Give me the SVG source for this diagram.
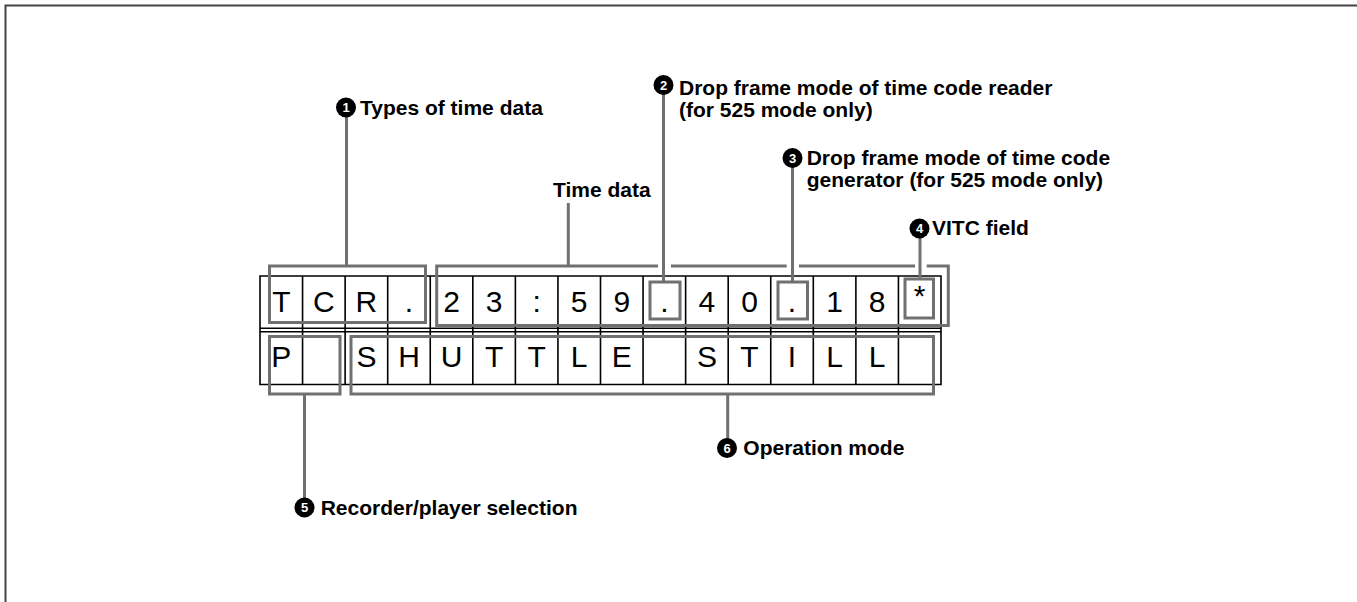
<svg xmlns="http://www.w3.org/2000/svg" width="1357" height="602" viewBox="0 0 1357 602">
<style>
.lbl{font-family:"Liberation Sans",Arial,sans-serif;font-weight:bold;font-size:21px;fill:#000}
.num{font-family:"Liberation Sans",Arial,sans-serif;font-weight:bold;font-size:13px;fill:#fff;text-anchor:middle}
.lcd{font-family:"Liberation Sans",Arial,sans-serif;font-size:30px;fill:#000;text-anchor:middle}
.br{fill:none;stroke:#707070;stroke-width:3}
.ld{fill:none;stroke:#707070;stroke-width:3}
.grid{fill:none;stroke:#000;stroke-width:1.6}
</style>
<rect width="1357" height="602" fill="#fff"/>
<path d="M5.5,602 V5.5 H1357" fill="none" stroke="#444" stroke-width="2"/>

<g id="lcd">
<path class="grid" d="M260,276 H941 V384.5 H260 Z M260,328.3 H941 M260,331.7 H941
M302.56,276 V384.5 M345.13,276 V384.5 M387.69,276 V384.5 M430.25,276 V384.5 M472.81,276 V384.5 M515.38,276 V384.5 M557.94,276 V384.5 M600.5,276 V384.5 M643.06,276 V384.5 M685.63,276 V384.5 M728.19,276 V384.5 M770.75,276 V384.5 M813.31,276 V384.5 M855.88,276 V384.5 M898.44,276 V384.5"/>
<g class="lcd">
<text x="281.3" y="311.7">T</text>
<text x="323.8" y="311.7">C</text>
<text x="366.4" y="311.7">R</text>
<text x="409" y="311.7">.</text>
<text x="451.5" y="311.7">2</text>
<text x="494.1" y="311.7">3</text>
<text x="536.7" y="311.7">:</text>
<text x="579.2" y="311.7">5</text>
<text x="621.8" y="311.7">9</text>
<text x="664.3" y="311.7">.</text>
<text x="706.9" y="311.7">4</text>
<text x="749.5" y="311.7">0</text>
<text x="792" y="311.7">.</text>
<text x="834.6" y="311.7">1</text>
<text x="877.2" y="311.7">8</text>
<text x="919.7" y="306">*</text>
<text x="281.3" y="367.3">P</text>
<text x="366.4" y="367.3">S</text>
<text x="409" y="367.3">H</text>
<text x="451.5" y="367.3">U</text>
<text x="494.1" y="367.3">T</text>
<text x="536.7" y="367.3">T</text>
<text x="579.2" y="367.3">L</text>
<text x="621.8" y="367.3">E</text>
<text x="706.9" y="367.3">S</text>
<text x="749.5" y="367.3">T</text>
<text x="792" y="367.3">I</text>
<text x="834.6" y="367.3">L</text>
<text x="877.2" y="367.3">L</text>
</g>
</g>

<g id="brackets">
<rect id="box-types" class="br" x="269.5" y="266" width="156" height="56.5"/>
<path id="box-time" class="br" d="M658,266 H436.7 V325.5 H948.3 V266 H926.7 M915,266 H799 M786.7,266 H671"/>
<rect id="box-df-reader" class="br" x="650" y="282" width="30" height="37"/>
<rect id="box-df-gen" class="br" x="778" y="282" width="29.5" height="37"/>
<rect id="box-vitc" class="br" x="905" y="279" width="28.5" height="39"/>
<rect id="box-recplay" class="br" x="269.5" y="336.5" width="70.5" height="57.5"/>
<rect id="box-opmode" class="br" x="351" y="336.5" width="582.5" height="57.5"/>
</g>

<g id="connectors">
<line class="ld" x1="346.5" y1="112" x2="346.5" y2="266"/>
<line class="ld" x1="568.3" y1="203" x2="568.3" y2="266"/>
<line class="ld" x1="663.5" y1="90" x2="663.5" y2="282"/>
<line class="ld" x1="792.5" y1="163" x2="792.5" y2="282"/>
<line class="ld" x1="920" y1="234" x2="920" y2="279"/>
<line class="ld" x1="304.5" y1="394" x2="304.5" y2="502"/>
<line class="ld" x1="727.7" y1="394" x2="727.7" y2="443"/>
</g>

<g id="label1">
<circle cx="346" cy="107.5" r="10"/>
<text class="num" x="346" y="112.3">1</text>
<text class="lbl" x="360" y="115">Types of time data</text>
</g>
<g id="label-time">
<text class="lbl" x="553" y="196.7">Time data</text>
</g>
<g id="label2">
<circle cx="663.5" cy="85" r="10"/>
<text class="num" x="663.5" y="89.8">2</text>
<text class="lbl" x="679" y="95">Drop frame mode of time code reader</text>
<text class="lbl" x="679" y="117">(for 525 mode only)</text>
</g>
<g id="label3">
<circle cx="792.5" cy="158" r="10"/>
<text class="num" x="792.5" y="162.8">3</text>
<text class="lbl" x="806.7" y="165">Drop frame mode of time code</text>
<text class="lbl" x="806.7" y="187">generator (for 525 mode only)</text>
</g>
<g id="label4">
<circle cx="919.5" cy="228.5" r="10"/>
<text class="num" x="919.5" y="233.3">4</text>
<text class="lbl" x="932" y="235">VITC field</text>
</g>
<g id="label5">
<circle cx="304.5" cy="507.5" r="10"/>
<text class="num" x="304.5" y="512.3">5</text>
<text class="lbl" x="320.7" y="515">Recorder/player selection</text>
</g>
<g id="label6">
<circle cx="727" cy="448" r="10"/>
<text class="num" x="727" y="452.8">6</text>
<text class="lbl" x="743.3" y="455">Operation mode</text>
</g>
</svg>
